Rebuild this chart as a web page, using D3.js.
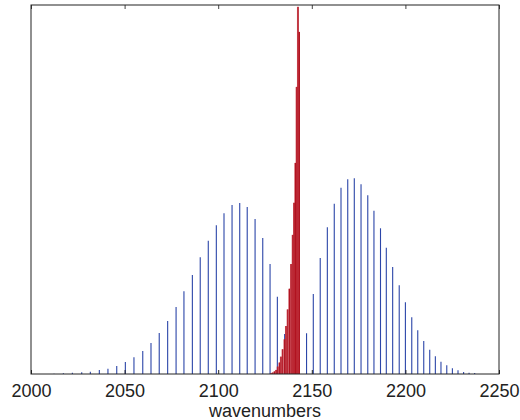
<!DOCTYPE html>
<html>
<head>
<meta charset="utf-8">
<script src="https://cdn.jsdelivr.net/npm/d3@7"></script>
<style>
  body { margin: 0; background: #fff; }
  svg { display: block; font-family: "Liberation Sans", Arial, sans-serif; }
</style>
</head>
<body>
<div id="chart"></div>
<script>
// stick spectrum, P branch (blue)
const pWavenumbers = [2012.3, 2017.3, 2022.1, 2027.1, 2031.7, 2036.5, 2041.1, 2045.8, 2050.4, 2055.0,
  2059.7, 2064.1, 2068.5, 2073.0, 2077.5, 2081.7, 2086.2, 2090.4, 2094.7, 2099.0,
  2103.1, 2107.4, 2111.5, 2115.5, 2119.7, 2123.8, 2127.7, 2131.6, 2135.5];
const pIntensity = [0.001, 0.002, 0.0035, 0.0046, 0.0062, 0.0108, 0.0144, 0.0217, 0.0325, 0.0453,
  0.0623, 0.084, 0.1111, 0.1436, 0.1816, 0.2241, 0.2683, 0.3163, 0.3612, 0.403,
  0.4355, 0.458, 0.4634, 0.4526, 0.4201, 0.3686, 0.2981, 0.2095, 0.1084];

// R branch (blue)
const rWavenumbers = [2147.2, 2150.8, 2154.5, 2158.3, 2162.0, 2165.6, 2169.2, 2172.7, 2176.3, 2179.9,
  2183.2, 2186.7, 2189.8, 2193.2, 2196.7, 2200.0, 2203.4, 2206.6, 2209.8, 2213.0,
  2216.0, 2219.0, 2222.1, 2225.1, 2228.1, 2231.1, 2234.0, 2237.0];
const rIntensity = [0.1103, 0.2168, 0.3144, 0.3976, 0.4615, 0.5049, 0.5276, 0.5304, 0.5141, 0.4843,
  0.4425, 0.3949, 0.3423, 0.29, 0.2404, 0.1943, 0.1537, 0.1184, 0.0894, 0.0659,
  0.048, 0.0333, 0.0236, 0.0154, 0.01, 0.0054, 0.0035, 0.0027];

// narrow band (red)
const redWavenumbers = [2128.1, 2129.0, 2129.9, 2130.8, 2131.7, 2132.6, 2133.4, 2134.3, 2135.3, 2136.1,
  2137.0, 2137.9, 2138.8, 2139.7, 2140.4, 2141.1, 2141.8, 2142.5, 2143.2];
const redIntensity = [0.002, 0.004, 0.007, 0.011, 0.02, 0.031, 0.047, 0.067, 0.094, 0.13,
  0.175, 0.231, 0.298, 0.377, 0.464, 0.572, 0.778, 0.995, 0.927];

const xTicks = [2000, 2050, 2100, 2150, 2200, 2250];
const xLabel = "wavenumbers";

const width = 520, height = 420;
const margin = { top: 5, right: 21, bottom: 46, left: 31 };

const svg = d3.select("#chart").append("svg")
  .attr("width", width)
  .attr("height", height);

const x = d3.scaleLinear().domain([2000, 2250]).range([margin.left, width - margin.right]);
const y = d3.scaleLinear().domain([0, 1]).range([height - margin.bottom, margin.top]);

const blue = d3.zip(pWavenumbers, pIntensity).concat(d3.zip(rWavenumbers, rIntensity));
const red = d3.zip(redWavenumbers, redIntensity);

// blue sticks
svg.append("g")
  .selectAll("line")
  .data(blue)
  .join("line")
  .attr("x1", d => x(d[0]))
  .attr("x2", d => x(d[0]))
  .attr("y1", y(0))
  .attr("y2", d => y(d[1]))
  .attr("stroke", "#2b45a8")
  .attr("stroke-width", 1.1);

// red band, drawn as wide bars with a dark core
const barW = x(2000.85) - x(2000);
const redG = svg.append("g");
redG.selectAll("rect")
  .data(red)
  .join("rect")
  .attr("x", d => x(d[0]) - barW / 2)
  .attr("width", barW)
  .attr("y", d => y(d[1]))
  .attr("height", d => y(0) - y(d[1]))
  .attr("fill", "#c4303c")
  .attr("fill-opacity", 0.85);
redG.selectAll("line")
  .data(red)
  .join("line")
  .attr("x1", d => x(d[0]) + barW / 4)
  .attr("x2", d => x(d[0]) + barW / 4)
  .attr("y1", y(0))
  .attr("y2", d => y(d[1]))
  .attr("stroke", "#b0111e")
  .attr("stroke-width", 1);

// axes with inward ticks
const bottomAxis = svg.append("g")
  .attr("transform", `translate(0,${y(0)})`)
  .call(d3.axisBottom(x).tickValues(xTicks).tickFormat(d3.format("d")).tickSizeInner(-4).tickSizeOuter(0).tickPadding(10));
bottomAxis.select(".domain").remove();
bottomAxis.selectAll("line").attr("stroke", "#222");
bottomAxis.selectAll("text").attr("font-size", 18).attr("fill", "#222")
  .attr("font-family", "Liberation Sans, Arial, sans-serif");

const topAxis = svg.append("g")
  .attr("transform", `translate(0,${margin.top})`)
  .call(d3.axisTop(x).tickValues(xTicks).tickFormat("").tickSizeInner(-4).tickSizeOuter(0));
topAxis.select(".domain").remove();
topAxis.selectAll("line").attr("stroke", "#444");

// frame
svg.append("rect")
  .attr("x", x(2000))
  .attr("y", y(1))
  .attr("width", x(2250) - x(2000))
  .attr("height", y(0) - y(1))
  .attr("fill", "none")
  .attr("stroke", "#222")
  .attr("stroke-width", 1);

svg.append("text")
  .attr("x", (x(2000) + x(2250)) / 2)
  .attr("y", 417)
  .attr("text-anchor", "middle")
  .attr("font-size", 18)
  .attr("fill", "#222")
  .text(xLabel);
</script>
</body>
</html>
